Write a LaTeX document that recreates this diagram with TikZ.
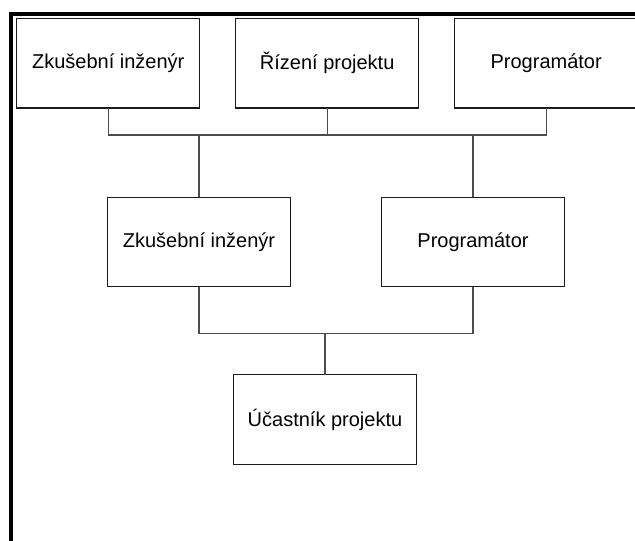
\documentclass[tikz,border=0pt]{standalone}
\usepackage{fontspec}
\setmainfont{Liberation Sans}
\usepackage{tikz}
\usetikzlibrary{positioning,calc}
\definecolor{edge}{HTML}{1A1A1A}
\definecolor{wire}{HTML}{4D4D4D}

\begin{document}
\begin{tikzpicture}[
  x=1pt,y=-1pt,
  role/.style={draw=edge,line width=1.4pt,minimum width=183pt,minimum height=89.5pt,
               inner sep=0pt,outer sep=0pt,font=\fontsize{20}{24}\selectfont,align=center},
  wire/.style={draw=wire,line width=1.1pt}
]
\useasboundingbox (0,0) rectangle (635,541);
\clip (0,0) rectangle (635,541);
% frame
\draw[line width=3.5pt] (10.8,560) |- (660,14);
% top row
\node[role] at (108.2,63.3) (z1) {Zkušební inženýr};
\node[role,right=36pt of z1] (r1) {Řízení projektu};
\node[role,right=36pt of r1] (p1) {Programátor};
% middle row
\node[role] at (199,242) (z2) {Zkušební inženýr};
\node[role,right=91pt of z2] (p2) {Programátor};
% bottom
\node[role] at (325,419.5) (u) {Účastník projektu};
% first bus
\coordinate (bus1) at (0,135);
\draw[wire] (z1.south) |- (p1.south |- bus1) -- (p1.south);
\draw[wire] (r1.south) -- (r1.south |- bus1);
\draw[wire] (z2.north) -- (z2.north |- bus1);
\draw[wire] (p2.north) -- (p2.north |- bus1);
% second bus
\coordinate (bus2) at (0,333.3);
\draw[wire] (z2.south) |- (p2.south |- bus2) -- (p2.south);
\draw[wire] (u.north) -- (u.north |- bus2);
\end{tikzpicture}
\end{document}
